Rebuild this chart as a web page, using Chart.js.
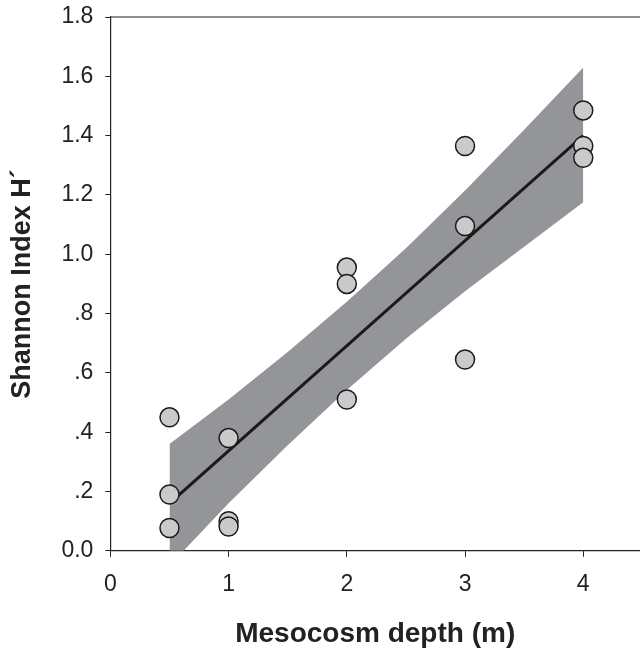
<!DOCTYPE html>
<html>
<head>
<meta charset="utf-8">
<script src="https://cdn.jsdelivr.net/npm/chart.js@4.4.1/dist/chart.umd.min.js"></script>
<style>
  html, body { margin: 0; padding: 0; background: #fff; overflow: hidden; }
</style>
</head>
<body>
<canvas id="shannon-chart" width="640" height="651"></canvas>
<script>
// observed points
const depth   = [0.5, 0.5, 0.5, 1, 1, 1, 2, 2, 2, 3, 3, 3, 4, 4, 4];
const shannon = [0.45, 0.19, 0.077, 0.38, 0.10, 0.082, 0.955, 0.90, 0.51, 1.365, 1.095, 0.645, 1.485, 1.365, 1.325];

// regression line end points
const fitX = [0.5, 4];
const fitY = [0.16, 1.40];

// 95% confidence band
const bandX     = [0.5, 1, 1.5, 2, 2.5, 3, 3.5, 4];
const bandUpper = [0.36, 0.51, 0.67, 0.84, 1.02, 1.215, 1.42, 1.63];
const bandLower = [-0.05, 0.16, 0.356, 0.542, 0.715, 0.875, 1.025, 1.175];

const xTicks = [0, 1, 2, 3, 4];
const yTicks = [0, 0.2, 0.4, 0.6, 0.8, 1.0, 1.2, 1.4, 1.6, 1.8];

const pairs = (xs, ys) => xs.map((x, i) => ({x: x, y: ys[i]}));

function yLabel(v) {
  if (v === 0) return '0.0';
  if (v < 1) return '.' + Math.round(v * 10);
  return v.toFixed(1);
}

// top frame line only (no right border in the original)
const topLine = {
  id: 'topLine',
  afterDraw(chart) {
    const a = chart.chartArea, ctx = chart.ctx;
    ctx.save();
    ctx.strokeStyle = '#222';
    ctx.lineWidth = 1.2;
    ctx.beginPath();
    ctx.moveTo(a.left, a.top);
    ctx.lineTo(a.right, a.top);
    ctx.stroke();
    ctx.restore();
  }
};

new Chart(document.getElementById('shannon-chart'), {
  type: 'line',
  data: {
    datasets: [
      {
        label: 'lower',
        data: pairs(bandX, bandLower),
        borderWidth: 0,
        pointRadius: 0,
        fill: false,
        order: 4
      },
      {
        label: 'upper',
        data: pairs(bandX, bandUpper),
        borderWidth: 0,
        pointRadius: 0,
        backgroundColor: '#939598',
        fill: '-1',
        order: 3
      },
      {
        label: 'fit',
        data: pairs(fitX, fitY),
        borderColor: '#1a1a1a',
        borderWidth: 3,
        pointRadius: 0,
        fill: false,
        order: 2
      },
      {
        label: 'H',
        data: pairs(depth, shannon),
        showLine: false,
        pointRadius: 9.5,
        pointBorderWidth: 1.5,
        pointBackgroundColor: '#c9cacc',
        pointBorderColor: '#1a1a1a',
        order: 1
      }
    ]
  },
  options: {
    responsive: false,
    animation: false,
    layout: { autoPadding: false, padding: { left: 0, top: 17, right: 0, bottom: 0 } },
    plugins: {
      legend: { display: false },
      tooltip: { enabled: false }
    },
    scales: {
      x: {
        type: 'linear',
        min: 0,
        max: 4.48,
        afterBuildTicks: s => { s.ticks = xTicks.map(v => ({value: v})); },
        grid: { drawOnChartArea: false, drawTicks: true, tickLength: 6, tickColor: '#222' },
        border: { color: '#222', width: 1.2 },
        ticks: { color: '#222', font: { family: 'Liberation Sans', size: 23 }, padding: 14 },
        title: {
          display: true,
          text: 'Mesocosm depth (m)',
          color: '#222',
          font: { family: 'Liberation Sans', size: 28, weight: 'bold' },
          padding: { top: 5, bottom: 0 }
        }
      },
      y: {
        min: 0,
        max: 1.8,
        afterBuildTicks: s => { s.ticks = yTicks.map(v => ({value: v})); },
        afterFit: s => { s.paddingTop = 0; s.paddingBottom = 0; },
        grid: { drawOnChartArea: false, drawTicks: true, tickLength: 5, tickColor: '#222' },
        border: { color: '#222', width: 1.2 },
        ticks: { color: '#222', font: { family: 'Liberation Sans', size: 23 }, padding: 12, callback: v => yLabel(v) },
        title: {
          display: true,
          text: 'Shannon Index H´',
          color: '#222',
          font: { family: 'Liberation Sans', size: 27, weight: 'bold' },
          padding: { top: 6, bottom: 11 }
        }
      }
    }
  },
  plugins: [topLine]
});
</script>
</body>
</html>
